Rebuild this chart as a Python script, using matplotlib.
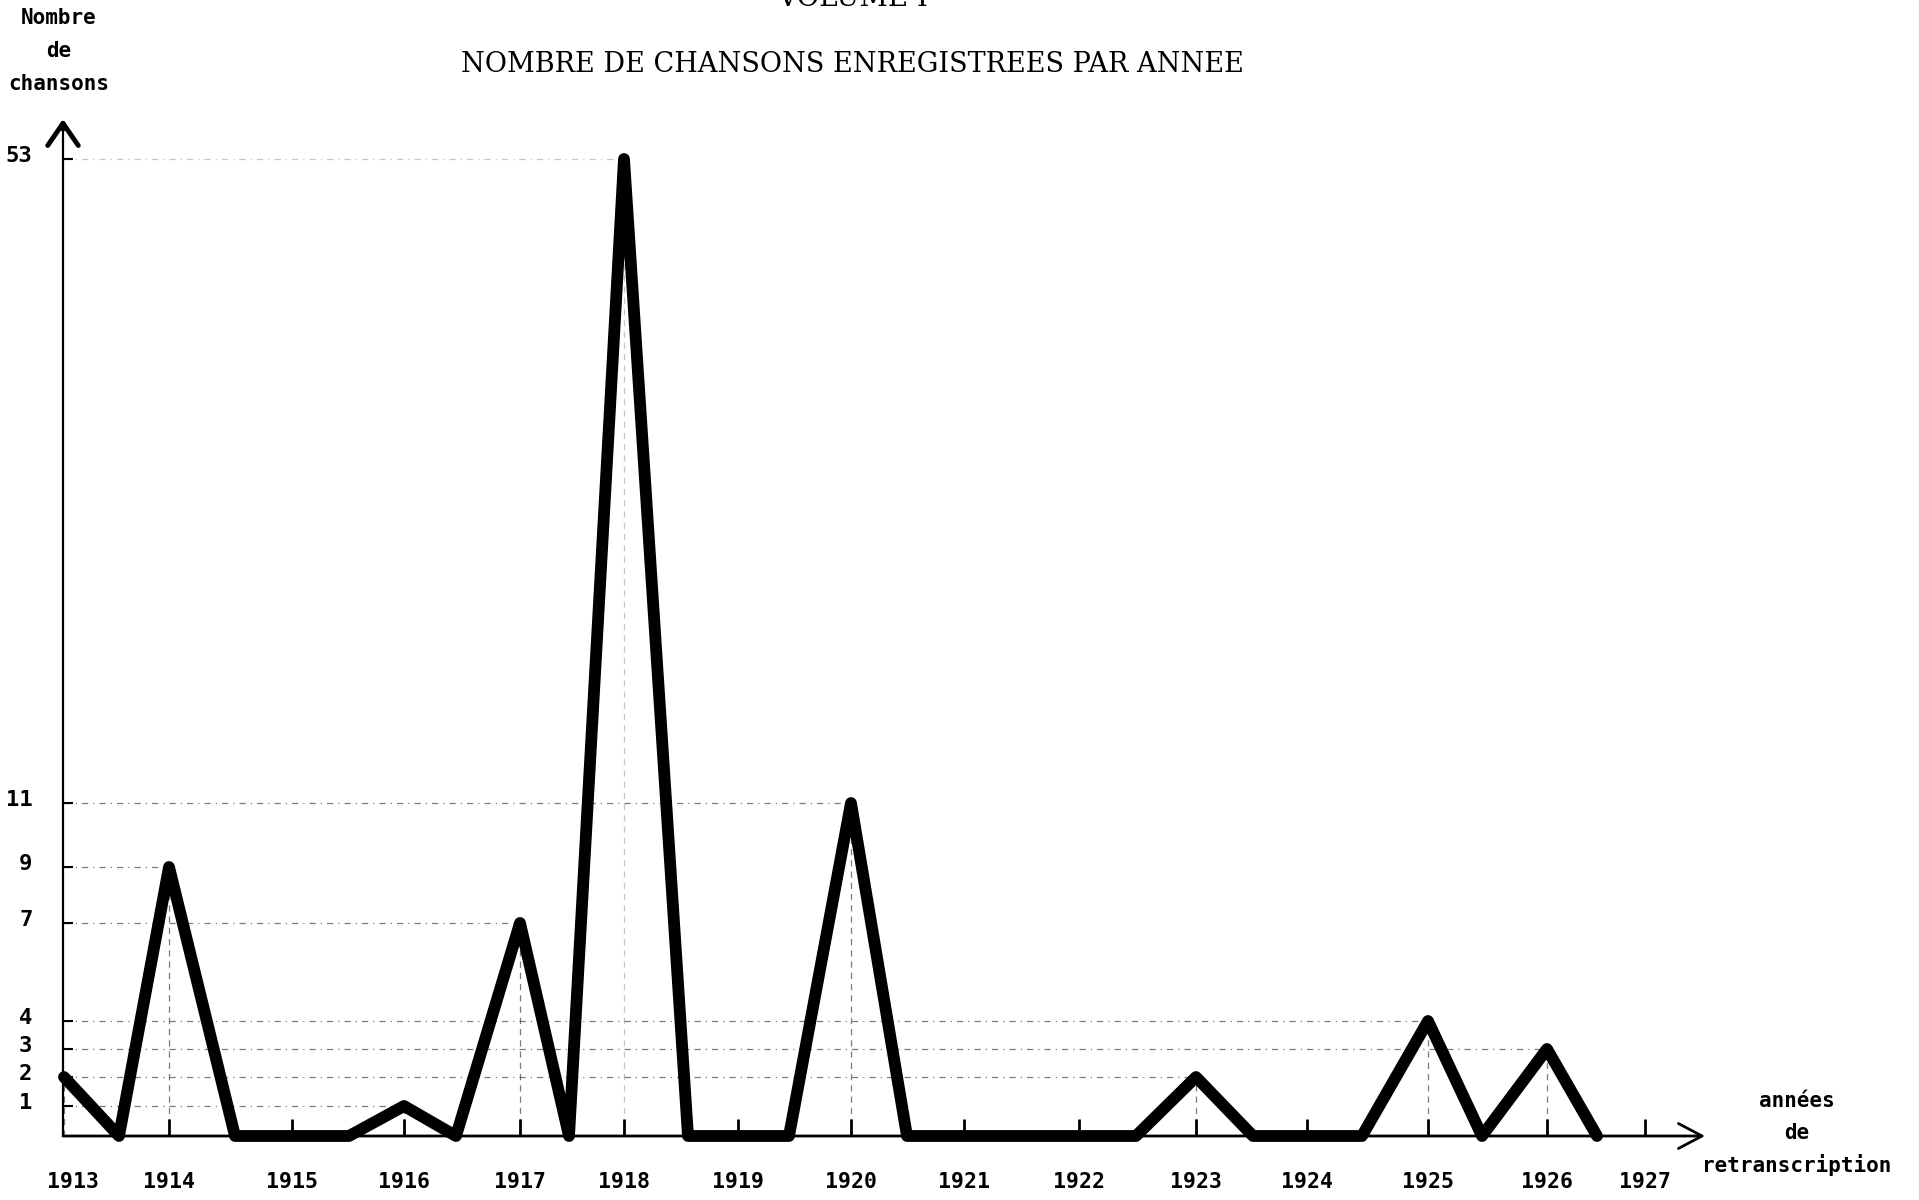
import numpy as np
import matplotlib
matplotlib.use("Agg")
import matplotlib.pyplot as plt
from matplotlib.transforms import ScaledTranslation

# ---------------- data ----------------
years = [1913, 1913.5, 1914, 1914.5, 1915.5, 1916, 1916.5, 1917, 1917.5,
         1918, 1918.5, 1919.5, 1920, 1920.5, 1922.5, 1923, 1923.5, 1924.5,
         1925, 1925.5, 1926, 1926.5]
songs = [2, 0, 9, 0, 0, 1, 0, 7, 0,
         53, 0, 0, 11, 0, 0, 2, 0, 0,
         4, 0, 3, 0]
year_ticks = list(range(1913, 1928))
year_labels = [str(y) for y in year_ticks]
value_ticks = [1, 2, 3, 4, 7, 9, 11, 53]
value_labels = [str(v) for v in value_ticks]

title = "NOMBRE DE CHANSONS ENREGISTREES PAR ANNEE"
supertitle = "VOLUME I"
ylabel_lines = ["Nombre", "de", "chansons"]
xlabel_lines = ["années", "de", "retranscription"]

# ---------------- hand-drawn, non-linear axis scales ----------------
yscale_vals = np.array([-10, 0, 1, 2, 3, 4, 7, 9, 11, 53, 100], dtype=float)
yscale_pos = np.array([-300, 0, 30, 59, 87, 115, 213, 269, 333, 977, 1697.5])

xscale_vals = np.array([1900, 1913, 1913.5, 1914, 1914.5, 1915.5, 1916,
                        1916.5, 1917, 1917.5, 1918, 1918.5, 1919.5, 1920,
                        1920.5, 1922.5, 1923, 1923.5, 1924.5, 1925, 1925.5,
                        1926, 1926.5, 1927, 1940])
xscale_pos = np.array([-1419, 64, 119, 169, 235, 349, 404, 456, 520, 569,
                       624, 688, 789, 851, 907, 1136, 1196, 1253, 1362, 1428,
                       1482, 1547, 1597, 1645, 3127], dtype=float)


def yfwd(v):
    return np.interp(v, yscale_vals, yscale_pos)


def yinv(h):
    return np.interp(h, yscale_pos, yscale_vals)


def xfwd(v):
    return np.interp(v, xscale_vals, xscale_pos)


def xinv(p):
    return np.interp(p, xscale_pos, xscale_vals)


W, H = 1919, 1200
fig = plt.figure(figsize=(W / 100, H / 100), dpi=100)
fig.patch.set_facecolor("white")

left_px, right_px, bottom_px, top_px = 63, 1705, 1136, 119
ax = fig.add_axes([left_px / W, 1 - bottom_px / H,
                   (right_px - left_px) / W, (bottom_px - top_px) / H])
ax.set_yscale("function", functions=(yfwd, yinv))
ax.set_xscale("function", functions=(xfwd, xinv))
ax.set_xlim(xinv(left_px), xinv(right_px))
ax.set_ylim(0, yinv(bottom_px - top_px))
for s in ax.spines.values():
    s.set_visible(False)

mono = dict(family="DejaVu Sans Mono", weight="bold")

# guide (reading) lines from each peak to the axes
yrs = np.array(years)
vals = np.array(songs)
peaks = vals > 0
for x, v in zip(yrs[peaks], vals[peaks]):
    a = 0.3 if v > 20 else 0.7
    ax.plot([1913, x], [v, v], color="#444444", lw=0.9, alpha=a,
            linestyle=(0, (5, 4, 1, 4)), zorder=1)
    ax.plot([x, x], [0, v], color="#444444", lw=0.9, alpha=a,
            linestyle=(0, (5, 4)), zorder=1)

# main curve
ax.plot(years, songs, color="black", lw=8.5, solid_joinstyle="round",
        solid_capstyle="round", clip_on=False, zorder=5)

# axes drawn as arrows
ax.plot([0, 0], [0, 0.995], transform=ax.transAxes, color="black", lw=1.6,
        clip_on=False, zorder=3)
ax.annotate("", xy=(0, 1.0), xytext=(0, 0.99), xycoords="axes fraction",
            arrowprops=dict(arrowstyle="->,head_length=0.8,head_width=0.55",
                            lw=3.5, color="black", shrinkA=0, shrinkB=0,
                            mutation_scale=20))
ax.annotate("", xy=(1.0, 0), xytext=(0, 0), xycoords="axes fraction",
            arrowprops=dict(arrowstyle="->,head_length=0.85,head_width=0.45",
                            lw=2.0, color="black", shrinkA=0, shrinkB=0,
                            mutation_scale=20))

# ticks
ax.set_xticks(year_ticks)
ax.set_xticklabels(year_labels, fontsize=15.5, **mono)
ax.tick_params(axis="x", direction="in", length=12, width=2, pad=26,
               colors="black")
ax.xaxis.get_major_ticks()[0].tick1line.set_visible(False)
for lab in ax.get_xticklabels()[:1]:
    lab.set_transform(lab.get_transform() +
                      ScaledTranslation(9 / 100, 0, fig.dpi_scale_trans))

ax.set_yticks(value_ticks)
ax.set_yticklabels(value_labels, fontsize=16, **mono)
ax.tick_params(axis="y", direction="in", length=7, width=1.5, pad=22,
               colors="black")
ax.minorticks_off()
for lab in ax.get_yticklabels():
    lab.set_transform(lab.get_transform() +
                      ScaledTranslation(0, 5 / 100, fig.dpi_scale_trans))


def ftext(x, y, s, **kw):
    fig.text(x / W, 1 - y / H, s, **kw)


# titles
ftext(853, 6, supertitle, ha="center", va="baseline", fontsize=20,
      family="DejaVu Serif")
ftext(852, 64, title, ha="center", va="center", fontsize=19.5,
      family="DejaVu Serif")

# axis captions
for i, line in enumerate(ylabel_lines):
    ftext(59, 18 + 33 * i, line, ha="center", va="center", fontsize=15,
          **mono)
for i, line in enumerate(xlabel_lines):
    ftext(1797, 1101 + 32 * i, line, ha="center", va="center", fontsize=15,
          **mono)

fig.savefig("out.png", dpi=100, facecolor="white")
